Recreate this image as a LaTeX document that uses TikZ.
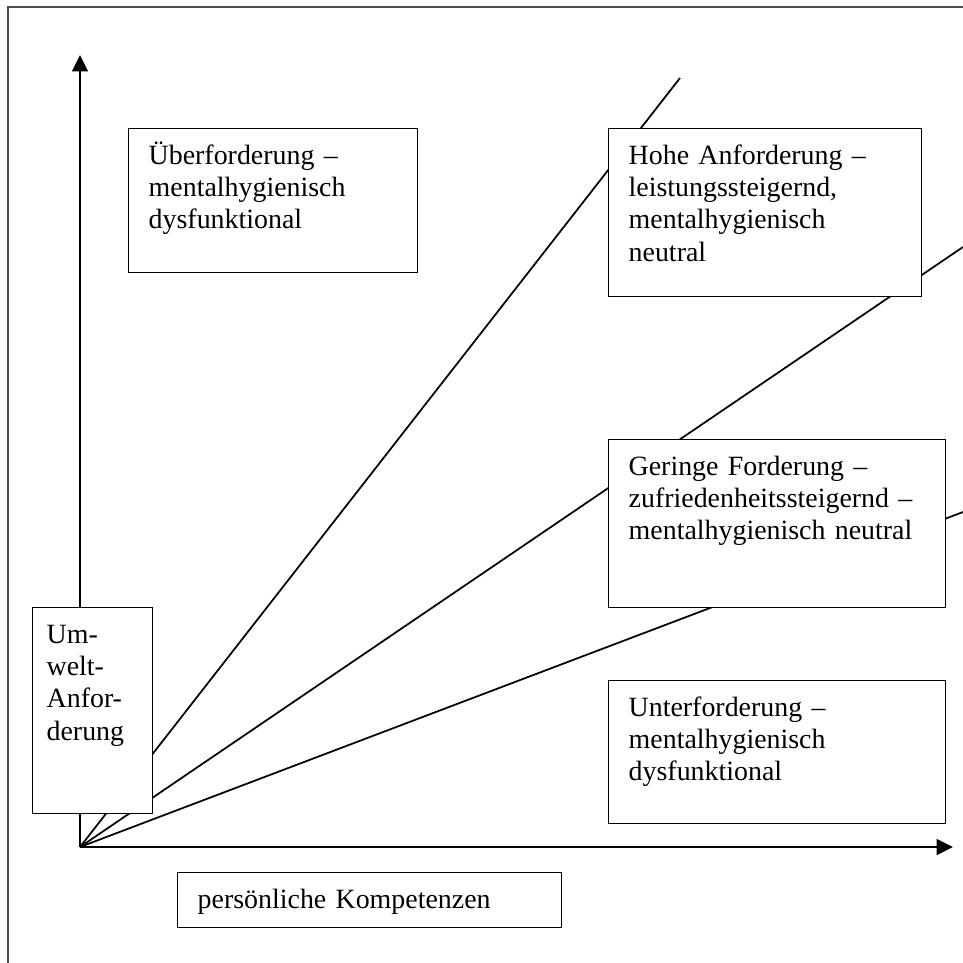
\documentclass[tikz,border=0pt]{standalone}
\usepackage{fontspec}
\setmainfont{Liberation Serif}
\usetikzlibrary{arrows.meta}

\tikzset{
  feld/.style={draw, fill=white, line width=0.6pt, anchor=north west, align=left,
    inner xsep=8.6pt, inner ysep=4.5pt, text height=11pt,
    font=\fontsize{12}{13.8}\selectfont},
  achse/.style={line width=0.75pt, -{Triangle[length=7pt,width=6.8pt]}},
  strahl/.style={line width=0.75pt}
}

\begin{document}
\begin{tikzpicture}[x=0.43pt, y=-0.43pt]
    \path[use as bounding box, clip] (0,0) rectangle (963,963);
    \draw[black!70, line width=0.6pt] (8,990) -- (8,7) -- (990,7); % frame
    \coordinate (O) at (80,847); % origin
    \coordinate (ytip) at (80,55);
    \coordinate (xtip) at (953,847);
    \coordinate (r1) at (680,78);
    \coordinate (r2) at (963,247);
    \coordinate (r3) at (963,512);
    \draw[achse] (O) -- (ytip); % y axis
    \draw[achse] (O) -- (xtip); % x axis
    \draw[strahl] (O) -- (r1); % steep ray
    \draw[strahl] (O) -- (r2); % middle ray
    \draw[strahl] (O) -- (r3); % flat ray
    \node[feld, text width=107.1pt, text depth=41.9pt] (ueber) at (128,128) {Überforderung –\\mentalhygienisch\\dysfunktional};
    \node[feld, text width=117.4pt, text depth=52.2pt] (hohe) at (608,128) {Hohe Anforderung –\\leistungssteigernd,\\mentalhygienisch\\neutral};
    \node[feld, text width=127.7pt, text depth=52.2pt] (gering) at (608,439) {Geringe Forderung –\\zufriedenheitssteigernd –\\mentalhygienisch neutral};
    \node[feld, text width=127.7pt, text depth=41.5pt] (unter) at (608,680) {Unterforderung –\\mentalhygienisch\\dysfunktional};
    \node[feld, inner xsep=6pt, text width=39.6pt, text depth=68.6pt] (umwelt) at (32,607) {Um-\\welt-\\Anfor-\\derung};
    \node[feld, text width=147.9pt, text depth=3.65pt] (kompetenz) at (177,872) {persönliche Kompetenzen};
\end{tikzpicture}
\end{document}
